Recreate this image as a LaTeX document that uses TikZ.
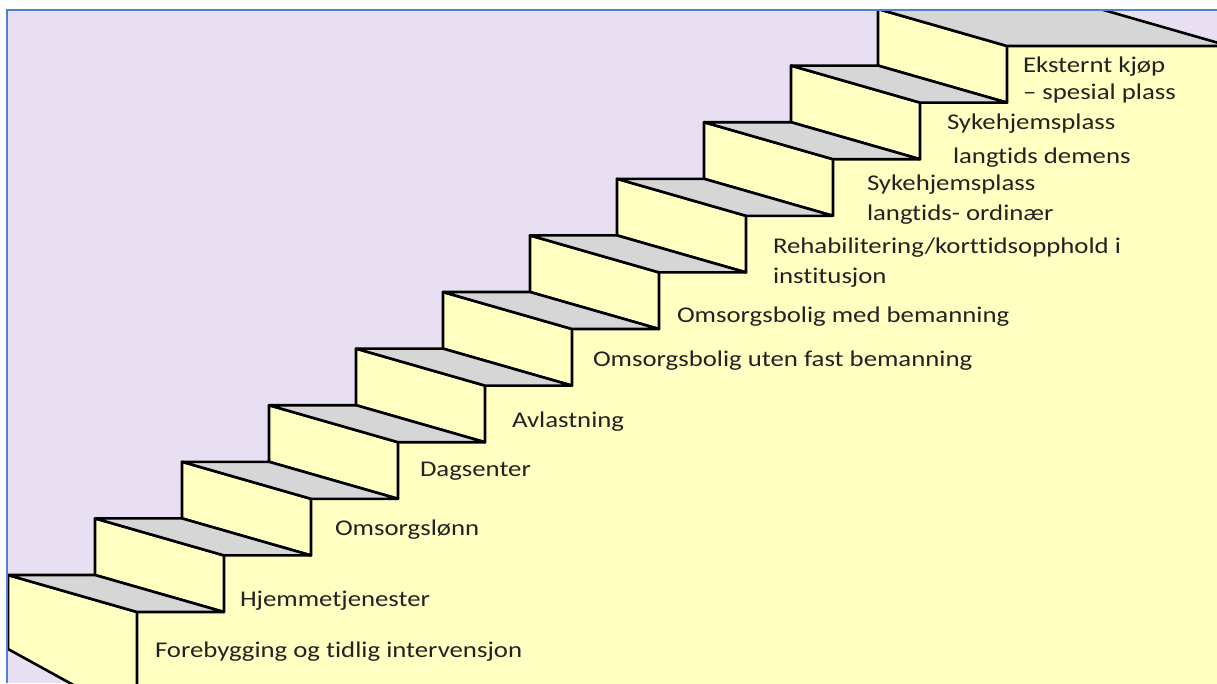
\documentclass[tikz,border=0pt]{standalone}
\usepackage{fontspec}
\setmainfont{Carlito}[FakeStretch=1.19, Ligatures=CommonOff]
\definecolor{lav}{RGB}{232,224,242}
\definecolor{yel}{RGB}{255,255,194}
\definecolor{trd}{RGB}{214,214,214}
\definecolor{framec}{RGB}{79,129,209}
\definecolor{txt}{RGB}{34,34,34}
\begin{document}
\begin{tikzpicture}[x=1pt,y=-1pt,
  edge/.style={draw=black, line width=2.6pt, line join=round},
  sideface/.style={edge, fill=yel},
  treadface/.style={edge, fill=trd},
  lbl/.style={anchor=base west, inner sep=0pt, outer sep=0pt, text=txt, align=left, font=\fontsize{22.5}{30}\selectfont}]
\useasboundingbox (0,0) rectangle (1217,683);
\fill[white] (0,0) rectangle (1217,683);
\begin{scope}
  \clip (7,10) rectangle (1217,683);
  \fill[lav] (7,10) rectangle (1217,683);
  % solid body of the staircase
  \fill[yel] (8,575) foreach \k in {0,...,9} {-- ({95+87*\k},{575-56.6*\k}) -- ({95+87*\k},{575-56.6*(\k+1)})}
     -- (1100,9) -- (1229,46) -- (1229,700) -- (151,700) -- (8,649) -- cycle;
  % bottom step side face
  \draw[sideface] (8,575) -- (137,612) -- (137,720) -- (8,649) -- cycle;
  % side faces of steps 1..10
  \foreach \k in {1,...,10} {
    \draw[sideface] ({8+87*\k},{575-56.6*\k}) -- ++(129,37) -- ++(0,56.6) -- ++(-129,-37) -- cycle;
  }
  % treads 0..9
  \foreach \k in {0,...,9} {
    \draw[treadface] ({8+87*\k},{575-56.6*\k}) -- ++(87,0) -- ++(129,37) -- ++(-87,0) -- cycle;
  }
  % top landing
  \draw[treadface] (878,9) -- (1100,9) -- (1229,46) -- (1007,46) -- cycle;
\end{scope}
\draw[framec, line width=1.2pt] (7,683) -- (7,10) -- (1217,10);
% labels
\node[lbl] (l0) at (155,657) {Forebygging og tidlig intervensjon};
\node[lbl] (l1) at (240,606) {Hjemmetjenester};
\node[lbl] (l2) at (335,535) {Omsorgslønn};
\node[lbl] (l3) at (420,476) {Dagsenter};
\node[lbl] (l4) at (512,427) {Avlastning};
\node[lbl] (l5) at (593,366) {Omsorgsbolig uten fast bemanning};
\node[lbl] (l6) at (677,322) {Omsorgsbolig med bemanning};
\node[lbl] (l7) at (773,283) {Rehabilitering/korttidsopphold i\\institusjon};
\node[lbl] (l8) at (867,220) {Sykehjemsplass\\langtids- ordinær};
\node[lbl, font=\fontsize{22.5}{34}\selectfont] (l9) at (947,163) {Sykehjemsplass\\\hspace*{6pt}langtids demens};
\node[lbl, font=\fontsize{22.5}{27}\selectfont] (l10) at (1023,99) {Eksternt kjøp\\– spesial plass};
\end{tikzpicture}
\end{document}
